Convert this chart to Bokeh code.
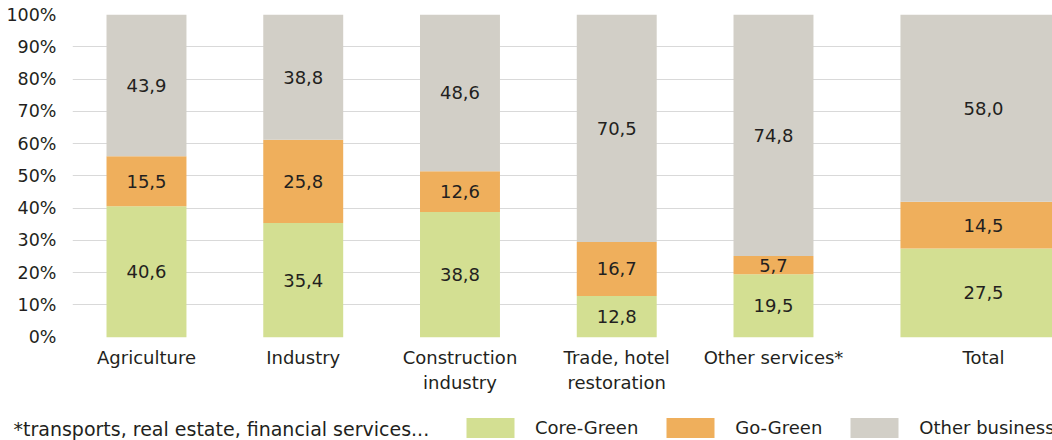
from bokeh.plotting import figure
from bokeh.layouts import column
from bokeh.models import ColumnDataSource, Range1d, FixedTicker
from bokeh.embed import file_html
from bokeh.resources import INLINE
from bokeh.core.properties import value

# ---- data ----
categories = ["Agriculture", "Industry", "Construction\nindustry",
              "Trade, hotel\nrestoration", "Other services*", "Total"]
core_green = [40.6, 35.4, 38.8, 12.8, 19.5, 27.5]
go_green = [15.5, 25.8, 12.6, 16.7, 5.7, 14.5]
other_business = [43.9, 38.8, 48.6, 70.5, 74.8, 58.0]
series_names = ["Core-Green", "Go-Green", "Other businesses"]
y_ticks = [0, 10, 20, 30, 40, 50, 60, 70, 80, 90, 100]
footnote = "*transports, real estate, financial services..."

# ---- styling ----
colors = ["#d3df92", "#efaf5c", "#d2cfc7"]
FONT = "DejaVu Sans"
TXT = "#231f20"
W = 1052
H_MAIN = 412
H_FOOT = 28

n = len(categories)
xs = [float(i) for i in range(n - 1)] + [n - 1 + 0.34]
widths = [0.51] * (n - 1) + [1.06]

source = ColumnDataSource(dict(
    x=xs, w=widths, cat=categories,
    core=core_green, go=go_green, other=other_business,
))

p = figure(width=W, height=H_MAIN, output_backend="svg", toolbar_location=None,
           x_range=Range1d(-0.472, 5.780), y_range=Range1d(-23.33, 100),
           min_border_left=72, min_border_right=0, min_border_top=14,
           min_border_bottom=0)
p.frame_align = False
p.outline_line_color = None
p.background_fill_color = "white"
p.border_fill_color = "white"

p.xaxis.visible = False
p.xgrid.visible = False
p.ygrid.ticker = FixedTicker(ticks=y_ticks[1:-1])
p.ygrid.grid_line_color = "#d9d9d9"
p.ygrid.grid_line_width = 1.2

ya = p.yaxis[0]
ya.ticker = FixedTicker(ticks=y_ticks)
ya.major_label_overrides = {t: f"{t}%" for t in y_ticks}
ya.axis_line_color = None
ya.major_tick_line_color = None
ya.minor_tick_line_color = None
ya.major_tick_out = 0
ya.major_tick_in = 0
ya.major_label_standoff = 16
ya.major_label_text_font = FONT
ya.major_label_text_font_size = "17.5px"
ya.major_label_text_color = TXT

p.vbar_stack(["core", "go", "other"], x="x", width="w", source=source,
             fill_color=colors, line_color=None)

# value labels centred in each segment
lx, ly, lt = [], [], []
for i in range(n):
    base = 0.0
    for vals in (core_green, go_green, other_business):
        v = vals[i]
        lx.append(xs[i])
        ly.append(base + v / 2.0)
        lt.append(f"{v:.1f}".replace(".", ","))
        base += v
p.text(x=lx, y=ly, text=lt, text_align="center", text_baseline="middle",
       text_font=value(FONT), text_font_size="18px", text_color=TXT)

# category labels
p.text(x="x", y=-2.9, text="cat", source=source, text_align="center",
       text_baseline="top", text_font=value(FONT), text_font_size="18px",
       text_color=TXT, text_line_height=1.2)

# ---- footer: footnote + legend ----
f = figure(width=W, height=H_FOOT, output_backend="svg", toolbar_location=None,
           x_range=Range1d(0, W), y_range=Range1d(0, H_FOOT),
           x_axis_location=None, y_axis_location=None,
           min_border_left=0, min_border_right=0, min_border_top=0,
           min_border_bottom=0)
f.frame_align = False
f.outline_line_color = None
f.grid.visible = False

f.text(x=[13], y=[12], text=[footnote], text_align="left",
       text_baseline="middle", text_font=value(FONT), text_font_size="19px",
       text_color=TXT)

# zero-size proxies so the legend can draw its swatches
for name, c in zip(series_names, colors):
    f.vbar(x=[0], top=[0], width=0, fill_color=c, line_color=None,
           legend_label=name)

lg = f.legend[0]
lg.location = (460, 0)
lg.orientation = "horizontal"
lg.margin = 0
lg.padding = 0
lg.spacing = 22
lg.label_standoff = 15
lg.glyph_width = 60
lg.glyph_height = 25
lg.label_height = 25
lg.label_text_font = FONT
lg.label_text_font_size = "18px"
lg.label_text_color = TXT
lg.label_text_baseline = "middle"
lg.border_line_color = None
lg.background_fill_alpha = 0

layout = column(p, f, spacing=0)
open("out.html", "w").write(file_html(layout, INLINE))
